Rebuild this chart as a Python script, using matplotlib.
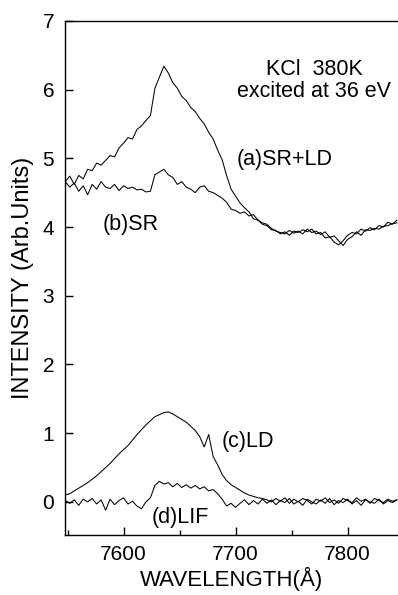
import matplotlib
matplotlib.use("Agg")
import matplotlib.pyplot as plt
import numpy as np
from matplotlib.ticker import MultipleLocator

plt.rcParams["font.family"] = ["Liberation Sans", "DejaVu Sans"]

# wavelength grid: start and step (Å)
X0, DX = 7548, 4

# (a) SR+LD
sr_ld = [4.66, 4.74, 4.62, 4.75, 4.70, 4.84, 4.82, 4.93, 4.90, 4.97,
         5.04, 5.02, 5.15, 5.22, 5.30, 5.28, 5.42, 5.47, 5.55, 5.62,
         6.02, 6.18, 6.34, 6.24, 6.10, 6.02, 5.90, 5.84, 5.74, 5.68,
         5.58, 5.50, 5.38, 5.28, 5.12, 4.98, 4.75, 4.55, 4.45, 4.35,
         4.28, 4.22, 4.12, 4.10, 4.04, 4.02, 3.96, 3.95, 3.90, 3.93,
         3.88, 3.94, 3.92, 3.96, 3.93, 3.97, 3.90, 3.92, 3.84, 3.86,
         3.78, 3.74, 3.80, 3.88, 3.92, 3.90, 3.97, 3.94, 3.99, 3.96,
         4.02, 4.00, 4.07, 4.04, 4.10]

# (b) SR
sr = [4.66, 4.58, 4.64, 4.52, 4.60, 4.47, 4.62, 4.55, 4.66, 4.58,
      4.56, 4.62, 4.53, 4.60, 4.56, 4.58, 4.54, 4.55, 4.51, 4.52,
      4.76, 4.80, 4.84, 4.76, 4.72, 4.62, 4.66, 4.58, 4.55, 4.50,
      4.58, 4.60, 4.52, 4.50, 4.46, 4.42, 4.36, 4.26, 4.24, 4.20,
      4.22, 4.16, 4.18, 4.10, 4.06, 4.04, 3.98, 3.94, 3.92, 3.90,
      3.95, 3.91, 3.94, 3.90, 3.97, 3.92, 3.94, 3.89, 3.93, 3.85,
      3.87, 3.80, 3.73, 3.82, 3.86, 3.93, 3.88, 3.96, 3.95, 3.98,
      3.97, 4.01, 4.02, 4.05, 4.06]

# (c) LD
ld = [0.10, 0.12, 0.16, 0.20, 0.24, 0.28, 0.33, 0.38, 0.44, 0.50,
      0.56, 0.63, 0.70, 0.76, 0.82, 0.90, 0.98, 1.05, 1.12, 1.18,
      1.24, 1.27, 1.30, 1.31, 1.28, 1.24, 1.20, 1.16, 1.10, 1.04,
      0.95, 0.80, 0.98, 0.66, 0.54, 0.40, 0.31, 0.25, 0.21, 0.17,
      0.13, 0.10, 0.08, 0.06, 0.05, 0.03, 0.00, 0.05, 0.01, 0.06,
      -0.02, 0.04, 0.00, 0.05, 0.02, -0.03, 0.04, 0.01, 0.06, -0.01,
      0.03, -0.02, 0.05, 0.02, -0.01, 0.06, 0.01, 0.04, -0.02, 0.05,
      0.02, -0.01, 0.04, 0.01, 0.03]

# (d) LIF
lif = [0.02, -0.02, 0.03, -0.05, 0.04, 0.00, 0.05, -0.03, 0.03, -0.12,
       0.04, -0.04, 0.02, 0.06, -0.03, 0.01, -0.06, -0.10, 0.00, 0.06,
       0.24, 0.30, 0.26, 0.28, 0.22, 0.27, 0.21, 0.25, 0.20, 0.24,
       0.19, 0.22, 0.16, 0.18, 0.12, 0.04, -0.06, -0.02, -0.08, -0.02,
       0.03, -0.04, 0.02, -0.03, 0.04, -0.02, 0.03, -0.04, 0.02, -0.01,
       0.05, -0.03, 0.01, -0.05, 0.04, 0.00, -0.03, 0.03, -0.02, 0.05,
       -0.04, 0.02, -0.01, 0.04, -0.03, 0.02, -0.05, 0.03, 0.00, -0.02,
       0.04, -0.03, 0.02, -0.01, 0.03]

series = [sr_ld, sr, ld, lif]

fig = plt.figure(figsize=(3.98, 5.95), dpi=100)
ax = fig.add_axes([0.164, 0.101, 0.836, 0.864])

for ys in series:
    xs = X0 + DX * np.arange(len(ys))
    ax.plot(xs, ys, color="black", lw=0.75)

ax.set_xlim(7548, 7845)
ax.set_ylim(-0.48, 7)
ax.xaxis.set_major_locator(MultipleLocator(100))
ax.xaxis.set_minor_locator(MultipleLocator(50))
ax.yaxis.set_major_locator(MultipleLocator(1))
ax.tick_params(which="major", direction="in", length=6, width=1,
               labelsize=15, top=False, right=False, pad=7)
ax.tick_params(which="minor", direction="in", length=3.5, width=1,
               top=False, right=False)
ax.tick_params(axis="y", pad=8)
ax.spines["right"].set_visible(False)
for s in ["left", "top", "bottom"]:
    ax.spines[s].set_linewidth(1)

ax.set_xlabel("WAVELENGTH(Å)", fontsize=16, labelpad=2)
ax.set_ylabel("INTENSITY (Arb.Units)", fontsize=17, labelpad=6)

ax.text(7770, 6.21, "KCl  380K", fontsize=15.5, ha="center", va="baseline")
ax.text(7770, 5.89, "excited at 36 eV", fontsize=15.5, ha="center", va="baseline")
ax.text(7701, 4.90, "(a)SR+LD", fontsize=15.5, ha="left", va="baseline")
ax.text(7581, 3.95, "(b)SR", fontsize=15.5, ha="left", va="baseline")
ax.text(7688, 0.80, "(c)LD", fontsize=15.5, ha="left", va="baseline")
ax.text(7625, -0.31, "(d)LIF", fontsize=15.5, ha="left", va="baseline")

fig.savefig("out.png", dpi=100)
